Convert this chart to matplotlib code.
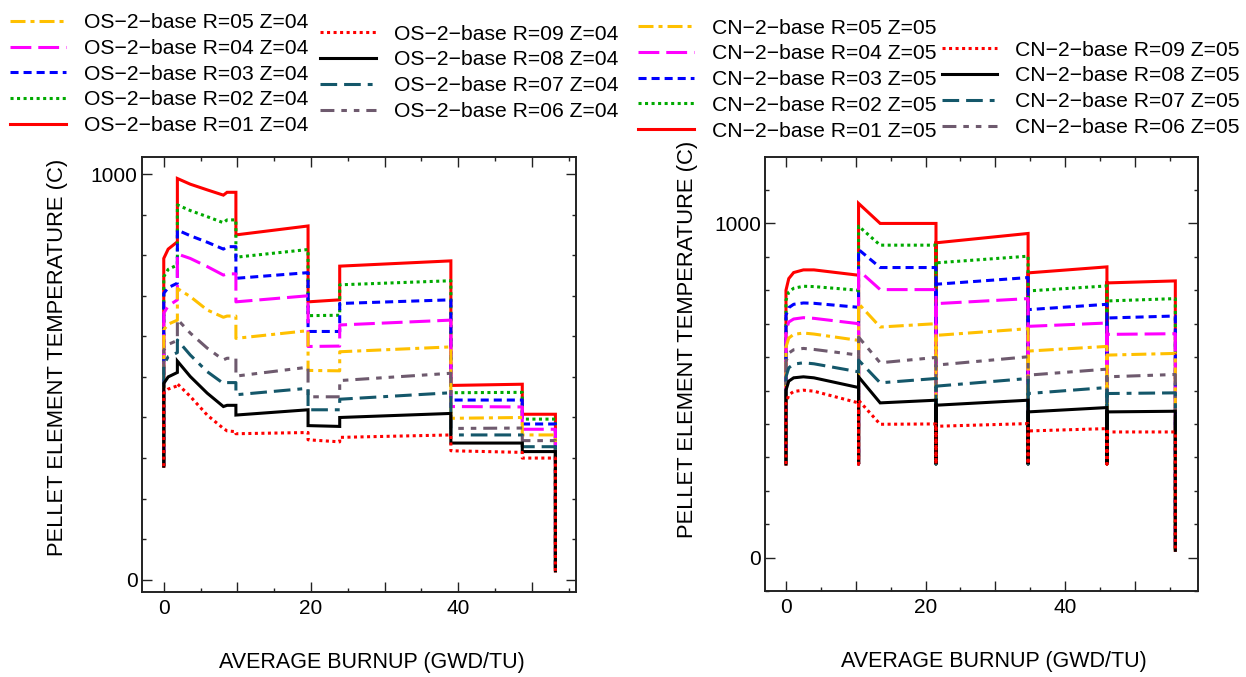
import matplotlib
matplotlib.use('Agg')
import matplotlib.pyplot as plt
from matplotlib.ticker import MultipleLocator, FuncFormatter

plt.rcParams['font.family'] = ['Liberation Sans', 'DejaVu Sans']
plt.rcParams['font.size'] = 15
plt.rcParams['lines.scale_dashes'] = False

# ---- OS-2-base, axial zone Z=04 (left panel) ----
burnup_os = [0, 0, 0.6, 1.85, 1.85, 3.6, 5.9, 8.1, 8.6, 9.8, 9.8, 19.6, 19.6,
             23.9, 23.9, 39.0, 39.0, 48.7, 48.7, 53.2, 53.2]
os_r01 = [280, 792, 815, 833, 989, 975, 961, 948, 955, 955, 850, 872, 685, 690, 773, 786, 479, 482, 408, 408, 22]
os_r02 = [280, 747, 765, 776, 924, 910, 895, 880, 887, 887, 795, 814, 651, 652, 727, 737, 461, 462, 396, 396, 22]
os_r03 = [280, 706, 720, 731, 862, 848, 832, 815, 821, 821, 743, 757, 612, 612, 681, 690, 443, 443, 384, 384, 22]
os_r04 = [280, 657, 675, 690, 803, 792, 772, 751, 754, 754, 685, 700, 575, 576, 628, 640, 427, 426, 371, 371, 22]
os_r05 = [280, 616, 630, 640, 718, 698, 665, 647, 650, 650, 595, 614, 516, 515, 562, 574, 398, 400, 357, 357, 22]
os_r06 = [280, 566, 580, 590, 642, 608, 571, 542, 546, 546, 502, 524, 451, 451, 491, 509, 373, 374, 343, 343, 22]
os_r07 = [280, 530, 550, 560, 591, 554, 513, 484, 486, 486, 456, 472, 419, 419, 445, 461, 357, 357, 328, 328, 22]
os_r08 = [280, 484, 500, 511, 539, 501, 460, 427, 430, 430, 406, 419, 380, 378, 400, 410, 337, 337, 316, 316, 22]
os_r09 = [280, 460, 470, 478, 483, 452, 406, 373, 367, 365, 360, 363, 345, 340, 351, 357, 318, 314, 300, 300, 22]

# ---- CN-2-base, axial zone Z=05 (right panel) ----
burnup_cn = [0, 0, 0.4, 1.1, 2.5, 4.0, 10.4, 10.4, 10.4, 13.5, 21.5, 21.5, 21.5,
             34.7, 34.7, 34.7, 46.0, 46.0, 46.0, 55.8, 55.8]
cn_r01 = [280, 800, 835, 853, 861, 861, 845, 280, 1060, 1000, 1000, 280, 942, 970, 280, 852, 870, 280, 822, 828, 22]
cn_r02 = [280, 770, 795, 806, 812, 811, 800, 280, 992, 935, 935, 280, 882, 902, 280, 798, 813, 280, 768, 775, 22]
cn_r03 = [280, 725, 748, 758, 762, 761, 749, 280, 922, 868, 868, 280, 818, 838, 280, 742, 758, 280, 717, 723, 22]
cn_r04 = [280, 680, 705, 714, 718, 716, 700, 280, 860, 802, 802, 280, 760, 775, 280, 692, 702, 280, 668, 670, 22]
cn_r05 = [280, 630, 657, 668, 672, 669, 650, 280, 760, 690, 700, 280, 665, 685, 280, 618, 632, 280, 606, 611, 22]
cn_r06 = [280, 586, 612, 622, 626, 623, 606, 280, 660, 583, 599, 280, 576, 601, 280, 546, 564, 280, 541, 548, 22]
cn_r07 = [280, 541, 568, 579, 583, 580, 556, 280, 591, 523, 536, 280, 513, 536, 280, 491, 509, 280, 491, 493, 22]
cn_r08 = [280, 501, 528, 538, 541, 538, 509, 280, 541, 463, 471, 280, 456, 471, 280, 436, 449, 280, 436, 438, 22]
cn_r09 = [280, 461, 487, 497, 501, 498, 463, 280, 471, 399, 400, 280, 393, 401, 280, 379, 386, 280, 376, 376, 22]

rings = ['01', '02', '03', '04', '05', '06', '07', '08', '09']
colors = ['#FF0000', '#00AA00', '#0000FF', '#FF00FF', '#FFC000',
          '#6E5A6E', '#14576A', '#000000', '#FF0000']
styles = ['-', (0, (2.2, 2.5)), (0, (5.8, 3.6)), (0, (15, 5)), (0, (10.8, 3.6, 2.9, 3.6)),
          (0, (10, 5, 4, 5, 4, 5)), (0, (12, 5, 12, 5, 3.5, 5)), '-', (0, (2.2, 2.5))]


def draw_panel(ax, x, series, xlim, ylim):
    lines = {}
    for r, y, c, ls in zip(rings, series, colors, styles):
        ln, = ax.plot(x, y, color=c, linestyle=ls, lw=2.2,
                      dash_capstyle='butt', solid_joinstyle='miter')
        lines[r] = ln
    ax.set_xlim(*xlim)
    ax.set_ylim(*ylim)
    ax.xaxis.set_major_locator(MultipleLocator(10))
    ax.xaxis.set_major_formatter(FuncFormatter(lambda v, p: f'{v:.0f}' if v % 20 == 0 else ''))
    ax.xaxis.set_minor_locator(MultipleLocator(5))
    ax.yaxis.set_major_locator(MultipleLocator(1000))
    ax.yaxis.set_minor_locator(MultipleLocator(100))
    ax.tick_params(which='both', direction='in', top=True, right=True,
                   width=1.0, color='#222222', labelsize=15)
    ax.tick_params(which='major', length=7)
    ax.tick_params(which='minor', length=3)
    ax.tick_params(axis='x', pad=5)
    ax.tick_params(axis='y', pad=3)
    for s in ax.spines.values():
        s.set_linewidth(1.4)
        s.set_color('#222222')
    ax.set_xlabel('AVERAGE BURNUP (GWD/TU)', fontsize=15.5)
    ax.set_ylabel('PELLET ELEMENT TEMPERATURE (C)', fontsize=15.8)
    return lines


def add_legend(fig, lines, order, prefix, zone, x, y):
    handles = [lines[r] for r in order]
    labels = [f'{prefix}\u22122\u2212base R={r} Z={zone}' for r in order]
    leg = fig.legend(handles, labels, loc='upper left', bbox_to_anchor=(x, y),
                     bbox_transform=fig.transFigure, frameon=False, borderpad=0,
                     borderaxespad=0, handlelength=2.64, handletextpad=0.85,
                     labelspacing=0.32, fontsize=15.2)
    return leg


fig = plt.figure(figsize=(12.46, 6.77), dpi=100)
ax1 = fig.add_axes([0.1137, 0.1256, 0.3486, 0.6425])
ax2 = fig.add_axes([0.6140, 0.1270, 0.3472, 0.6407])

os_series = [os_r01, os_r02, os_r03, os_r04, os_r05, os_r06, os_r07, os_r08, os_r09]
cn_series = [cn_r01, cn_r02, cn_r03, cn_r04, cn_r05, cn_r06, cn_r07, cn_r08, cn_r09]

os_lines = draw_panel(ax1, burnup_os, os_series, (-3, 56), (-30, 1042))
cn_lines = draw_panel(ax2, burnup_cn, cn_series, (-3, 59), (-100, 1198))

ax1.xaxis.set_label_coords(0.53, -0.139)
ax2.xaxis.set_label_coords(0.528, -0.139)
ax1.yaxis.set_label_coords(-0.17, 0.54)
ax2.yaxis.set_label_coords(-0.155, 0.58)

add_legend(fig, os_lines, ['05', '04', '03', '02', '01'], 'OS', '04', 0.008, 0.9806)
add_legend(fig, os_lines, ['09', '08', '07', '06'], 'OS', '04', 0.2568, 0.9636)
add_legend(fig, cn_lines, ['05', '04', '03', '02', '01'], 'CN', '05', 0.512, 0.9725)
add_legend(fig, cn_lines, ['09', '08', '07', '06'], 'CN', '05', 0.7558, 0.9399)

fig.savefig('out.png', dpi=100)
